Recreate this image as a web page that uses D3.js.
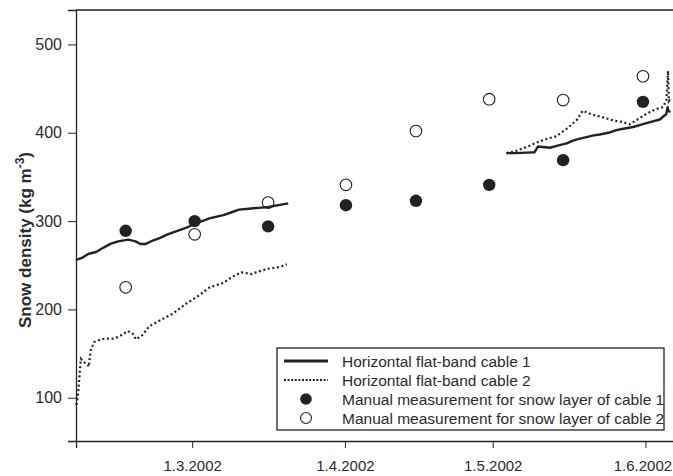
<!DOCTYPE html>
<html>
<head>
<meta charset="utf-8">
<script src="https://cdn.jsdelivr.net/npm/d3@7"></script>
<style>
  body { margin: 0; background: #fff; }
  svg text { font-family: "Liberation Sans", Arial, sans-serif; fill: #2b2b2b; }
</style>
</head>
<body>
<div id="chart"></div>
<script>
// Automatic readings, cable 1 (solid) and cable 2 (dotted), two periods each
const cable1Early = [
  ['2002-02-05 10', 256], ['2002-02-06 12', 258], ['2002-02-08 00', 263], ['2002-02-09 12', 265],
  ['2002-02-11 00', 270], ['2002-02-12 12', 274.5], ['2002-02-14 00', 277], ['2002-02-16 00', 279],
  ['2002-02-17 12', 277], ['2002-02-18 12', 274], ['2002-02-19 12', 274], ['2002-02-21 00', 278],
  ['2002-02-22 12', 281], ['2002-02-24 00', 285], ['2002-02-26 00', 289], ['2002-02-28 00', 293],
  ['2002-03-01 12', 297], ['2002-03-03 00', 300], ['2002-03-04 12', 303], ['2002-03-06 00', 305],
  ['2002-03-07 12', 307], ['2002-03-09 00', 310], ['2002-03-10 12', 313], ['2002-03-12 12', 314],
  ['2002-03-14 12', 315], ['2002-03-16 12', 316], ['2002-03-18 12', 318], ['2002-03-20 12', 320]
];
const cable2Early = [
  ['2002-02-05 12', 92], ['2002-02-05 18', 100], ['2002-02-05 23', 112], ['2002-02-06 05', 131],
  ['2002-02-06 10', 144], ['2002-02-07 02', 140], ['2002-02-07 18', 138], ['2002-02-08 00', 135],
  ['2002-02-08 10', 154], ['2002-02-09 02', 163], ['2002-02-10 12', 166], ['2002-02-11 12', 167],
  ['2002-02-13 00', 167], ['2002-02-14 00', 169], ['2002-02-15 00', 172], ['2002-02-15 22', 175.5],
  ['2002-02-16 22', 172.5], ['2002-02-17 14', 166], ['2002-02-18 22', 171], ['2002-02-20 07', 181],
  ['2002-02-22 07', 187], ['2002-02-25 00', 195], ['2002-02-27 16', 206], ['2002-03-02 10', 216],
  ['2002-03-04 14', 225], ['2002-03-07 07', 230], ['2002-03-09 05', 237], ['2002-03-11 00', 242],
  ['2002-03-13 00', 240], ['2002-03-14 12', 243], ['2002-03-16 10', 246], ['2002-03-18 19', 248],
  ['2002-03-20 05', 251]
];
const cable1Late = [
  ['2002-05-03 19', 377], ['2002-05-05 12', 377], ['2002-05-07 22', 377.5], ['2002-05-09 12', 378],
  ['2002-05-10 05', 384.5], ['2002-05-12 14', 383], ['2002-05-14 14', 386], ['2002-05-16 00', 388],
  ['2002-05-17 07', 391], ['2002-05-18 12', 393], ['2002-05-20 00', 395], ['2002-05-21 12', 397],
  ['2002-05-22 17', 398], ['2002-05-24 12', 400], ['2002-05-26 02', 403], ['2002-05-27 12', 404.5],
  ['2002-05-29 12', 406.5], ['2002-05-31 00', 409], ['2002-06-01 05', 411], ['2002-06-03 22', 415],
  ['2002-06-04 18', 419], ['2002-06-05 05', 421], ['2002-06-05 12', 429], ['2002-06-05 16', 425],
  ['2002-06-06 00', 423]
];
const cable2Late = [
  ['2002-05-03 19', 377], ['2002-05-05 12', 379], ['2002-05-07 22', 384], ['2002-05-09 22', 389],
  ['2002-05-11 22', 393], ['2002-05-13 22', 396], ['2002-05-16 00', 404.5], ['2002-05-18 00', 414],
  ['2002-05-19 07', 425], ['2002-05-20 17', 421.5], ['2002-05-22 17', 418.5], ['2002-05-25 10', 414],
  ['2002-05-27 12', 412], ['2002-05-28 19', 409.5], ['2002-05-30 05', 414.5], ['2002-06-01 05', 421.5],
  ['2002-06-03 05', 427], ['2002-06-04 14', 429], ['2002-06-05 06', 437], ['2002-06-05 14', 470],
  ['2002-06-05 18', 436], ['2002-06-06 06', 440]
];

// Manual measurements
const manualDates = ['2002-02-15 12', '2002-03-01 12', '2002-03-16 10', '2002-04-01 05',
  '2002-04-15 10', '2002-04-30 07', '2002-05-15 07', '2002-05-31 12'];
const manualCable1 = [289, 300, 294, 318, 323, 341, 369, 435];
const manualCable2 = [225, 285, 321, 341, 402, 438, 437, 464];

const xTicks = ['2002-03-01 00', '2002-04-01 00', '2002-05-01 00', '2002-06-01 00'];
const yTicks = [100, 200, 300, 400, 500];
const legendLabels = [
  'Horizontal flat-band cable 1',
  'Horizontal flat-band cable 2',
  'Manual measurement for snow layer of cable 1',
  'Manual measurement for snow layer of cable 2'
];

const W = 673, H = 476;
const margin = { left: 76, top: 10, bottom: 35 };
const parse = d3.timeParse('%Y-%m-%d %H');
const ink = '#1f2421';

const svg = d3.select('#chart').append('svg')
  .attr('width', W).attr('height', H)
  .style('display', 'block');

// Plot area runs a little past the right edge of the picture
const x = d3.scaleTime()
  .domain([parse('2002-02-05 10'), parse('2002-06-07 00')])
  .range([margin.left, 675]);
const y = d3.scaleLinear()
  .domain([51, 539])
  .range([H - margin.bottom, margin.top]);

// Frame
svg.append('line')
  .attr('x1', margin.left).attr('x2', W)
  .attr('y1', margin.top).attr('y2', margin.top)
  .attr('stroke', ink).attr('stroke-width', 1.3);

// Axes
const yAxis = svg.append('g')
  .attr('transform', `translate(${margin.left},0)`)
  .call(d3.axisLeft(y).tickValues(yTicks).tickSize(8).tickPadding(6));
const xAxis = svg.append('g')
  .attr('transform', `translate(0,${H - margin.bottom})`)
  .call(d3.axisBottom(x).tickValues(xTicks.map(parse)).tickSize(7).tickPadding(12)
    .tickFormat(d3.timeFormat('%-d.%-m.%Y')));

[xAxis, yAxis].forEach(a => {
  a.select('.domain').attr('stroke', ink).attr('stroke-width', 1.3);
  a.selectAll('.tick line').attr('stroke', ink).attr('stroke-width', 1);
  a.selectAll('.tick text').attr('fill', '#2b2b2b');
});
yAxis.selectAll('.tick text').style('font-size', '16px');
xAxis.selectAll('.tick text').style('font-size', '15px');
// last date label sits against the right edge
xAxis.selectAll('.tick text').filter((d, i) => i === xTicks.length - 1).attr('dx', -3);

// Y axis title
const title = svg.append('text')
  .attr('transform', 'translate(31,240) rotate(-90)')
  .attr('text-anchor', 'middle')
  .style('font-size', '17px').style('font-weight', 'bold');
title.append('tspan').text('Snow density (kg m');
title.append('tspan').attr('dy', -7).style('font-size', '12px').text('-3');
title.append('tspan').attr('dy', 7).text(')');

// Lines
const line = d3.line().x(d => x(parse(d[0]))).y(d => y(d[1]));
const lines = svg.append('g').attr('fill', 'none');
[cable1Early, cable1Late].forEach(s => {
  lines.append('path').attr('d', line(s))
    .attr('stroke', ink).attr('stroke-width', 2.4).attr('stroke-linejoin', 'round');
});
[cable2Early, cable2Late].forEach(s => {
  lines.append('path').attr('d', line(s))
    .attr('stroke', ink).attr('stroke-width', 2.2).attr('stroke-dasharray', '2,2.6');
});

// Manual measurement markers
const manual = manualDates.map((d, i) => ({ date: parse(d), c1: manualCable1[i], c2: manualCable2[i] }));
svg.append('g').selectAll('circle')
  .data(manual).enter().append('circle')
  .attr('cx', d => x(d.date)).attr('cy', d => y(d.c2)).attr('r', 5.8)
  .attr('fill', 'none').attr('stroke', ink).attr('stroke-width', 1.1);
svg.append('g').selectAll('circle')
  .data(manual).enter().append('circle')
  .attr('cx', d => x(d.date)).attr('cy', d => y(d.c1)).attr('r', 6.2)
  .attr('fill', ink);

// Legend
const lg = svg.append('g').attr('transform', 'translate(277,348)');
lg.append('rect').attr('width', 387).attr('height', 82)
  .attr('fill', '#fff').attr('stroke', ink).attr('stroke-width', 1.3);
const rowY = i => 13 + i * 19;
lg.append('line').attr('x1', 7).attr('x2', 51).attr('y1', rowY(0)).attr('y2', rowY(0))
  .attr('stroke', ink).attr('stroke-width', 3);
lg.append('line').attr('x1', 7).attr('x2', 51).attr('y1', rowY(1)).attr('y2', rowY(1))
  .attr('stroke', ink).attr('stroke-width', 1.8).attr('stroke-dasharray', '2,1.6');
lg.append('circle').attr('cx', 29).attr('cy', rowY(2)).attr('r', 5.8).attr('fill', ink);
lg.append('circle').attr('cx', 29).attr('cy', rowY(3)).attr('r', 5.5)
  .attr('fill', 'none').attr('stroke', ink).attr('stroke-width', 1.1);
lg.selectAll('text.lab').data(legendLabels).enter().append('text')
  .attr('class', 'lab')
  .attr('x', 65).attr('y', (d, i) => rowY(i)).attr('dy', '0.36em')
  .style('font-size', '15.5px').text(d => d);
</script>
</body>
</html>
